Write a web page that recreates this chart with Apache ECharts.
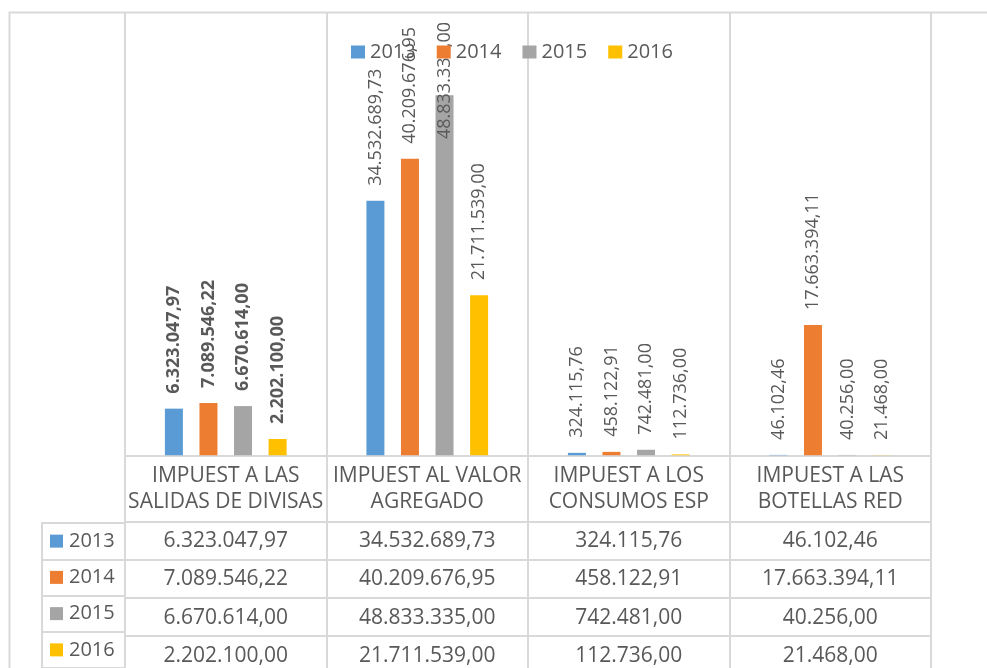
<!DOCTYPE html>
<html><head><meta charset="utf-8">
<script src="https://cdn.jsdelivr.net/npm/echarts@6/dist/echarts.min.js"></script>
<style>html,body{margin:0;padding:0;background:#fff}#c{width:987px;height:668px}</style>
</head><body><div id="c"></div>
<script>
const categories = ['IMPUEST A LAS\nSALIDAS DE DIVISAS', 'IMPUEST AL VALOR\nAGREGADO', 'IMPUEST A LOS\nCONSUMOS ESP', 'IMPUEST A LAS\nBOTELLAS RED'];
const years = ['2013', '2014', '2015', '2016'];
const v2013 = [6323047.97, 34532689.73, 324115.76, 46102.46];
const v2014 = [7089546.22, 40209676.95, 458122.91, 17663394.11];
const v2015 = [6670614.00, 48833335.00, 742481.00, 40256.00];
const v2016 = [2202100.00, 21711539.00, 112736.00, 21468.00];
const yMax = 60000000;

const colors = ['#5B9BD5', '#ED7D31', '#A5A5A5', '#FFC000'];
const allVals = [v2013, v2014, v2015, v2016];
const FONT = 'Open Sans';
const TXT = '#595959';
const LINE = '#d9d9d9';

function fmt(v) {
  const parts = v.toFixed(2).split('.');
  return parts[0].replace(/\B(?=(\d{3})+(?!\d))/g, '.') + ',' + parts[1];
}

const chart = echarts.init(document.getElementById('c'), null, {renderer: 'canvas'});

const xAxes = [{
  type: 'category', gridIndex: 0, data: categories, position: 'bottom',
  axisLine: {show: true, lineStyle: {color: LINE, width: 2}},
  axisTick: {show: true, length: 66, lineStyle: {color: LINE, width: 2}},
  splitLine: {show: true, lineStyle: {color: LINE, width: 2}},
  axisLabel: {interval: 0, margin: 8, lineHeight: 26, fontSize: 21, fontFamily: FONT, color: TXT}
}];
const rowOffsets = [66, 104.25, 142.5, 180.75];
allVals.forEach((arr, i) => {
  xAxes.push({
    type: 'category', gridIndex: 0, data: categories, position: 'bottom', offset: rowOffsets[i],
    axisLine: {show: true, onZero: false, lineStyle: {color: LINE, width: 2}},
    axisTick: {show: true, length: 38.25, lineStyle: {color: LINE, width: 2}},
    splitLine: {show: false},
    axisLabel: {interval: 0, margin: 8, lineHeight: 24, fontSize: 21, fontFamily: FONT, color: TXT,
      formatter: (val, idx) => fmt(arr[idx])}
  });
});
xAxes.push({type: 'value', gridIndex: 1, show: false});

const rich = {t: {fontSize: 20, fontFamily: FONT, color: TXT, padding: [0, 0, 0, 6], verticalAlign: 'middle'}};
colors.forEach((c, i) => { rich['b' + i] = {width: 13, height: 13, backgroundColor: c, verticalAlign: 'middle'}; });

const series = allVals.map((arr, si) => ({
  name: years[si], type: 'bar', xAxisIndex: 0, yAxisIndex: 0,
  barWidth: 18, barGap: '92%',
  itemStyle: {color: colors[si]},
  data: arr.map((v, ci) => ({value: v, label: {fontWeight: ci === 0 ? 'bold' : 'normal'}})),
  label: {
    show: true, position: 'top', rotate: 90, align: 'left', verticalAlign: 'middle', distance: 15,
    fontSize: 18, fontFamily: FONT, color: TXT,
    formatter: p => fmt(p.value)
  },
  labelLayout: function (p) {
    // keep rotated labels inside the chart area (shift down along the text direction)
    if (p.labelRect.y < 22) return {dx: -(22 - p.labelRect.y)};
    return {};
  }
}));

chart.setOption({
  animation: false,
  backgroundColor: '#fff',
  graphic: [{type: 'rect', shape: {x: 9.5, y: 12.5, width: 1200, height: 1000},
    style: {fill: 'none', stroke: LINE, lineWidth: 2}, silent: true}],
  legend: {
    data: years, left: 346, top: 37, icon: 'rect', itemWidth: 14, itemHeight: 13, itemGap: 21,
    textStyle: {fontSize: 20, fontFamily: FONT, color: TXT, lineHeight: 20}
  },
  grid: [
    {left: 125, right: 56, top: 13, bottom: 211, containLabel: false},
    {left: 42, width: 83, top: 523, height: 153, containLabel: false}
  ],
  xAxis: xAxes,
  yAxis: [
    {type: 'value', gridIndex: 0, min: 0, max: yMax, show: false, splitLine: {show: false}},
    {type: 'category', gridIndex: 1, data: years, inverse: true,
      axisLine: {show: true, onZero: false, lineStyle: {color: LINE, width: 2}},
      axisTick: {show: false},
      splitLine: {show: true, lineStyle: {color: LINE, width: 2}},
      axisLabel: {inside: true, margin: 8, formatter: (val, idx) => '{b' + idx + '|}{t|' + val + '}', rich: rich}
    }
  ],
  series: series
});
</script></body></html>
